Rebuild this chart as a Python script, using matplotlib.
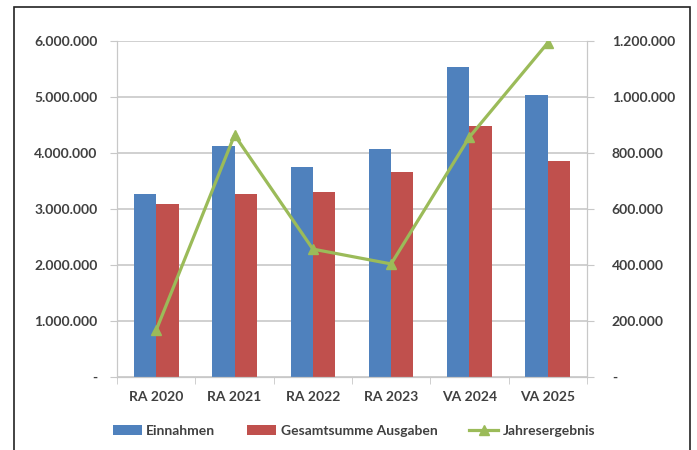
import matplotlib
matplotlib.use('Agg')
import matplotlib.pyplot as plt
import numpy as np
from matplotlib.patches import Rectangle

plt.rcParams['font.family'] = ['Lato', 'DejaVu Sans']

# data
jahre = ['RA 2020', 'RA 2021', 'RA 2022', 'RA 2023', 'VA 2024', 'VA 2025']
einnahmen = [3270000, 4125000, 3750000, 4070000, 5540000, 5040000]
ausgaben = [3090000, 3270000, 3300000, 3660000, 4480000, 3860000]
jahresergebnis = [168000, 864000, 457000, 404000, 857000, 1193000]

left_ticks = [0, 1000000, 2000000, 3000000, 4000000, 5000000, 6000000]
right_ticks = [0, 200000, 400000, 600000, 800000, 1000000, 1200000]

def fmt(v):
    if v == 0:
        return '-'
    return '{:,}'.format(v).replace(',', '.')

blau = '#4F81BD'
rot = '#C0504D'
gruen = '#9BBB59'
txt = '#404040'
grid = '#c8c8c8'

fig = plt.figure(figsize=(6.97, 4.5), dpi=100)
ax = fig.add_axes([0.168, 0.162, 0.674, 0.747])
ax2 = ax.twinx()

x = np.arange(len(jahre))
bw = 0.285
b1 = ax.bar(x - bw / 2, einnahmen, bw, color=blau, label='Einnahmen', zorder=2)
b2 = ax.bar(x + bw / 2, ausgaben, bw, color=rot, label='Gesamtsumme Ausgaben', zorder=2)
ln, = ax2.plot(x, jahresergebnis, color=gruen, lw=2.3, marker='^', ms=7,
               label='Jahresergebnis', zorder=3)

ax.set_xlim(-0.5, len(jahre) - 0.5)
ax.set_ylim(0, 6000000)
ax2.set_ylim(0, 1200000)
ax.set_yticks(left_ticks)
ax.set_yticklabels([fmt(v) for v in left_ticks])
ax2.set_yticks(right_ticks)
ax2.set_yticklabels([fmt(v) for v in right_ticks])
ax.set_xticks(x)
ax.set_xticklabels(jahre)
ax.set_xticks(np.arange(len(jahre) + 1) - 0.5, minor=True)

ax.yaxis.grid(True, color=grid, lw=1.2, zorder=0)
ax.set_axisbelow(True)

for a in (ax, ax2):
    for s in a.spines.values():
        s.set_color(grid)
    a.spines['top'].set_visible(False)
    a.tick_params(axis='y', colors=grid, labelcolor=txt, labelsize=10, length=5)
ax.tick_params(axis='y', pad=9)
ax2.tick_params(axis='y', pad=13)
ax.tick_params(axis='x', which='major', length=0, labelcolor=txt, labelsize=10, pad=10)
ax.tick_params(axis='x', which='minor', length=5, color=grid)
for lab in ax.get_yticklabels() + ax2.get_yticklabels() + ax.get_xticklabels():
    lab.set_fontweight('bold')

fig.legend(handles=[b1, b2, ln], loc='center', bbox_to_anchor=(0.508, 0.043), ncol=3,
           frameon=False, handlelength=2.1, columnspacing=2.3, handletextpad=0.3,
           prop={'size': 10, 'weight': 'bold'}, labelcolor=txt)

fig.patches.append(Rectangle((14 / 697, -0.01), (690 - 14) / 697, 1 - 7 / 450 + 0.01,
                             transform=fig.transFigure, fill=False, ec='#222222', lw=1.2))

fig.savefig('out.png', dpi=100)
